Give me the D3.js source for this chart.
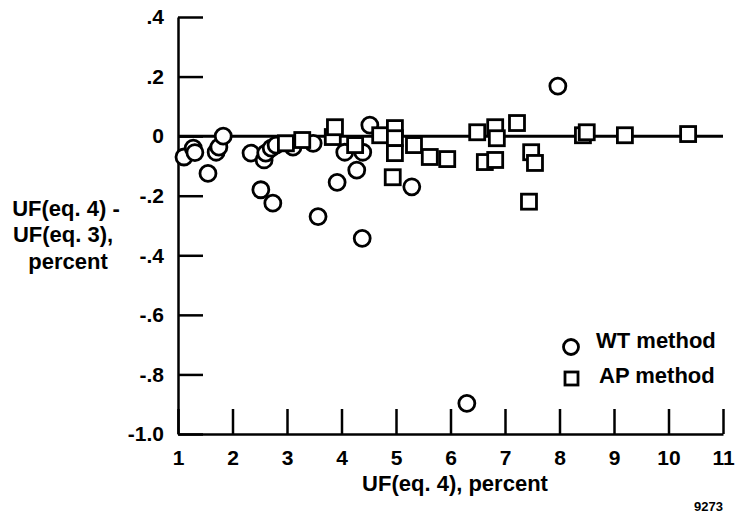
<!DOCTYPE html>
<meta charset="utf-8">
<style>
body { margin: 0; background: #fff; }
text { font-family: "Liberation Sans", Arial, Helvetica, sans-serif; font-weight: bold; fill: #000; }
.axis path, .axis line { stroke: #000; stroke-width: 2.5; }
.axis text { font-size: 21px; }
.mark { fill: #fff; stroke: #000; stroke-width: 2.8; }
</style>
<body>
<script src="https://cdn.jsdelivr.net/npm/d3@7"></script>
<script>

// values
var xTicks = [1, 2, 3, 4, 5, 6, 7, 8, 9, 10, 11];
var yTicks = [0.4, 0.2, 0, -0.2, -0.4, -0.6, -0.8, -1.0];
var yTickLabels = [".4", ".2", "0", "-.2", "-.4", "-.6", "-.8", "-1.0"];

var wtX = [1.11, 1.28, 1.31, 1.55, 1.70, 1.75, 1.83, 2.34, 2.58, 2.61, 2.71, 2.80, 2.52, 2.74,
           3.11, 3.48, 3.57, 3.92, 4.06, 4.28, 4.38, 4.39, 4.52, 5.29, 6.30, 7.97];
var wtY = [-0.07, -0.04, -0.055, -0.125, -0.054, -0.037, 0.0, -0.057, -0.08, -0.057, -0.04, -0.03, -0.18, -0.225,
           -0.037, -0.024, -0.27, -0.155, -0.054, -0.114, -0.343, -0.054, 0.037, -0.17, -0.897, 0.168];

var apX = [2.98, 3.28, 3.84, 3.88, 4.25, 4.71, 4.98, 4.98, 4.98, 4.94, 5.33, 5.62, 5.94,
           6.49, 6.63, 6.82, 6.82, 6.85, 7.22, 7.48, 7.55, 7.44, 8.43, 8.50, 9.20, 10.36];
var apY = [-0.024, -0.013, -0.003, 0.03, -0.03, 0.003, 0.027, -0.007, -0.057, -0.138, -0.03, -0.07, -0.077,
           0.013, -0.087, -0.08, 0.03, -0.007, 0.044, -0.054, -0.09, -0.22, 0.003, 0.013, 0.003, 0.007];

var margin = {top: 17, right: 13, bottom: 83, left: 178},
    width = 736 - margin.left - margin.right,
    height = 517 - margin.top - margin.bottom;

var x = d3.scaleLinear().domain([1, 11]).range([0, width]);
var y = d3.scaleLinear().domain([-1.0, 0.4]).range([height, 0]);

var root = d3.select("body").append("svg")
    .attr("width", 736)
    .attr("height", 517);

var svg = root.append("g")
    .attr("transform", "translate(" + margin.left + "," + margin.top + ")");

// zero line
svg.append("line")
    .attr("x1", x(1)).attr("x2", x(11))
    .attr("y1", y(0)).attr("y2", y(0))
    .attr("stroke", "#000")
    .attr("stroke-width", 3);

svg.append("g")
    .attr("class", "axis")
    .call(d3.axisLeft(y)
      .tickValues(yTicks)
      .tickFormat(function(d, i) { return yTickLabels[i]; })
      .tickSize(-25)
      .tickSizeOuter(0)
      .tickPadding(14));

svg.append("g")
    .attr("class", "axis")
    .attr("transform", "translate(0," + height + ")")
    .call(d3.axisBottom(x)
      .tickValues(xTicks)
      .tickSize(-25)
      .tickSizeOuter(0)
      .tickPadding(16));

// WT method
svg.selectAll(".wt")
    .data(wtX)
  .enter().append("circle")
    .attr("class", "mark wt")
    .attr("cx", function(d) { return x(d); })
    .attr("cy", function(d, i) { return y(wtY[i]); })
    .attr("r", 8);

// AP method
svg.selectAll(".ap")
    .data(apX)
  .enter().append("rect")
    .attr("class", "mark ap")
    .attr("x", function(d) { return x(d) - 7.5; })
    .attr("y", function(d, i) { return y(apY[i]) - 7.5; })
    .attr("width", 15)
    .attr("height", 15);

// axis titles
root.append("text")
    .attr("x", 455)
    .attr("y", 491)
    .style("text-anchor", "middle")
    .style("font-size", "22px")
    .text("UF(eq. 4), percent");

var ylab = root.append("text")
    .style("text-anchor", "middle")
    .style("font-size", "22px");
ylab.append("tspan").attr("x", 66).attr("y", 216).text("UF(eq. 4) -");
ylab.append("tspan").attr("x", 63).attr("y", 242).text("UF(eq. 3),");
ylab.append("tspan").attr("x", 68).attr("y", 269).text("percent");

// legend
root.append("circle")
    .attr("class", "mark")
    .attr("cx", 571).attr("cy", 347).attr("r", 7.5);
root.append("text")
    .attr("x", 596).attr("y", 348)
    .style("font-size", "22px")
    .text("WT method");
root.append("rect")
    .attr("class", "mark")
    .attr("x", 565).attr("y", 372).attr("width", 13).attr("height", 13);
root.append("text")
    .attr("x", 599).attr("y", 383)
    .style("font-size", "22px")
    .text("AP method");

root.append("text")
    .attr("x", 723).attr("y", 511)
    .style("text-anchor", "end")
    .style("font-size", "13px")
    .text("9273");

</script>
</body>
